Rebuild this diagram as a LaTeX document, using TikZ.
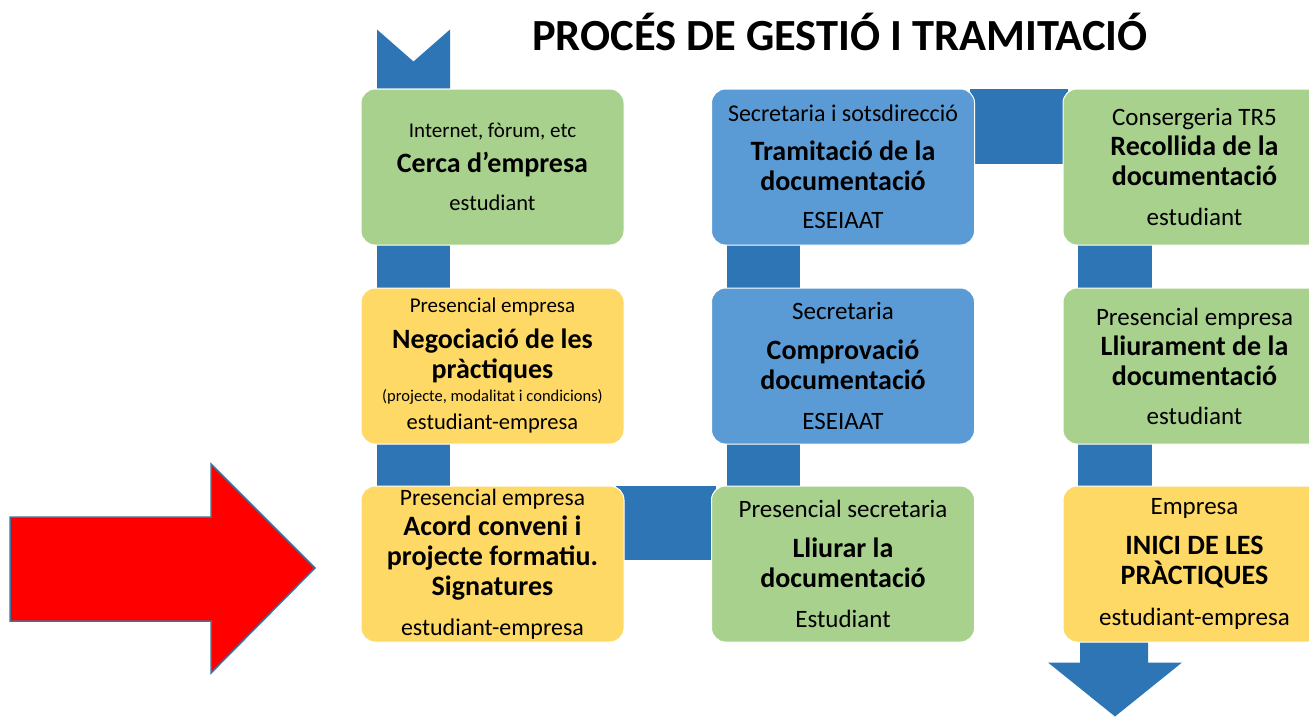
\documentclass[tikz,border=0pt]{standalone}
\usepackage{fontspec}
\setmainfont{Carlito}
\usetikzlibrary{backgrounds}
\newcommand{\gran}[1]{{\fontsize{28}{30}\selectfont\bfseries #1}}
\newcommand{\petit}[1]{{\fontsize{16.5}{18}\selectfont #1}}
\newcommand{\mida}[2]{{\fontsize{#1}{30}\selectfont #2}}
\tikzset{
  etapa/.style={rectangle, rounded corners=14pt, draw=white, line width=1pt,
    minimum width=263pt, minimum height=156pt, inner sep=0pt, align=center,
    font=\fontsize{25}{30}\selectfont},
  pas/.style={draw=blauFosc, line width=74pt, shorten <=-5pt, shorten >=-5pt},
}
\begin{document}
\begin{tikzpicture}[x=1pt,y=-1pt]
\definecolor{verd}{RGB}{169,209,142}
\definecolor{groc}{RGB}{255,217,102}
\definecolor{blau}{RGB}{91,155,213}
\definecolor{blauFosc}{RGB}{46,117,182}
\definecolor{vermell}{RGB}{255,0,0}
\definecolor{vora}{RGB}{65,113,156}
\useasboundingbox (0,0) rectangle (1309,716);

\node[font=\fontsize{44.5}{48}\selectfont\bfseries] (titol) at (840,32) {PROCÉS DE GESTIÓ I TRAMITACIÓ};

% columna 1
\node[etapa, fill=verd] (cerca) at (492.5,167) {\mida{21}{Internet, fòrum, etc}\\[5pt]\gran{Cerca d’empresa}\\[8pt]\mida{22.5}{estudiant}};
\node[etapa, fill=groc] (negociacio) at (492.5,366) {\mida{21}{Presencial empresa}\\[6pt]\gran{Negociació de les}\\\gran{pràctiques}\\[-7pt]\petit{(projecte, modalitat i condicions)}\\[-2pt]\mida{22.5}{estudiant-empresa}};
\node[etapa, fill=groc] (acord) at (492.5,564) {\mida{23.5}{Presencial empresa}\\\gran{Acord conveni i}\\\gran{projecte formatiu.}\\\gran{Signatures}\\[10pt]\mida{24}{estudiant-empresa}};

% columna 2
\node[etapa, fill=blau] (tramitacio) at (843,167) {\mida{24}{Secretaria i sotsdirecció}\\[9pt]\gran{Tramitació de la}\\\gran{documentació}\\[8pt]ESEIAAT};
\node[etapa, fill=blau] (comprovacio) at (843,366) {Secretaria\\[10pt]\gran{Comprovació}\\\gran{documentació}\\[10pt]ESEIAAT};
\node[etapa, fill=verd] (lliurar) at (843,564) {Presencial secretaria\\[10pt]\gran{Lliurar la}\\\gran{documentació}\\[10pt]Estudiant};

% columna 3
\node[etapa, fill=verd] (recollida) at (1194.5,167) {Consergeria TR5\\\gran{Recollida de la}\\\gran{documentació}\\[10pt]estudiant};
\node[etapa, fill=verd] (lliurament) at (1194.5,366) {Presencial empresa\\\gran{Lliurament de la}\\\gran{documentació}\\[9pt]estudiant};
\node[etapa, fill=groc] (inici) at (1194.5,564) {Empresa\\[10pt]\gran{INICI DE LES}\\\gran{PRÀCTIQUES}\\[11pt]estudiant-empresa};

\begin{pgfonlayer}{background}
\fill[blauFosc] ([xshift=-115.5pt]cerca.north) -- ++(0,-59) -- ++(36.5,32) -- ++(36.5,-32) -- ++(0,59) -- cycle;
\draw[pas, line width=73pt] ([xshift=-79pt]cerca.south) -- ([xshift=-79pt]negociacio.north);
\draw[pas, line width=73pt] ([xshift=-79pt]negociacio.south) -- ([xshift=-79pt]acord.north);
\draw[pas, shorten <=-9pt] ([yshift=41pt]acord.east) -- ([yshift=41pt]lliurar.west);
\draw[pas, line width=73pt] ([xshift=-79.5pt]lliurar.north) -- ([xshift=-79.5pt]comprovacio.south);
\draw[pas, line width=73pt] ([xshift=-79.5pt]comprovacio.north) -- ([xshift=-79.5pt]tramitacio.south);
\draw[pas, line width=75pt] ([yshift=40.5pt]tramitacio.east) -- ([yshift=40.5pt]recollida.west);
\draw[pas] ([xshift=-80pt]recollida.south) -- ([xshift=-80pt]lliurament.north);
\draw[pas] ([xshift=-80pt]lliurament.south) -- ([xshift=-80pt]inici.north);
\fill[blauFosc] ([xshift=-114.5pt, yshift=5pt]inici.south) -- ++(0,25) -- ++(-32,0) -- ++(67,54) -- ++(67,-54) -- ++(-34,0) -- ++(0,-25) -- cycle;
\end{pgfonlayer}

% fletxa vermella
\draw[draw=vora, fill=vermell, line width=1.5pt] (10,517) -- (211,517) -- (211,464) -- (315,568) -- (211,673) -- (211,621) -- (10,621) -- cycle;
\end{tikzpicture}
\end{document}
